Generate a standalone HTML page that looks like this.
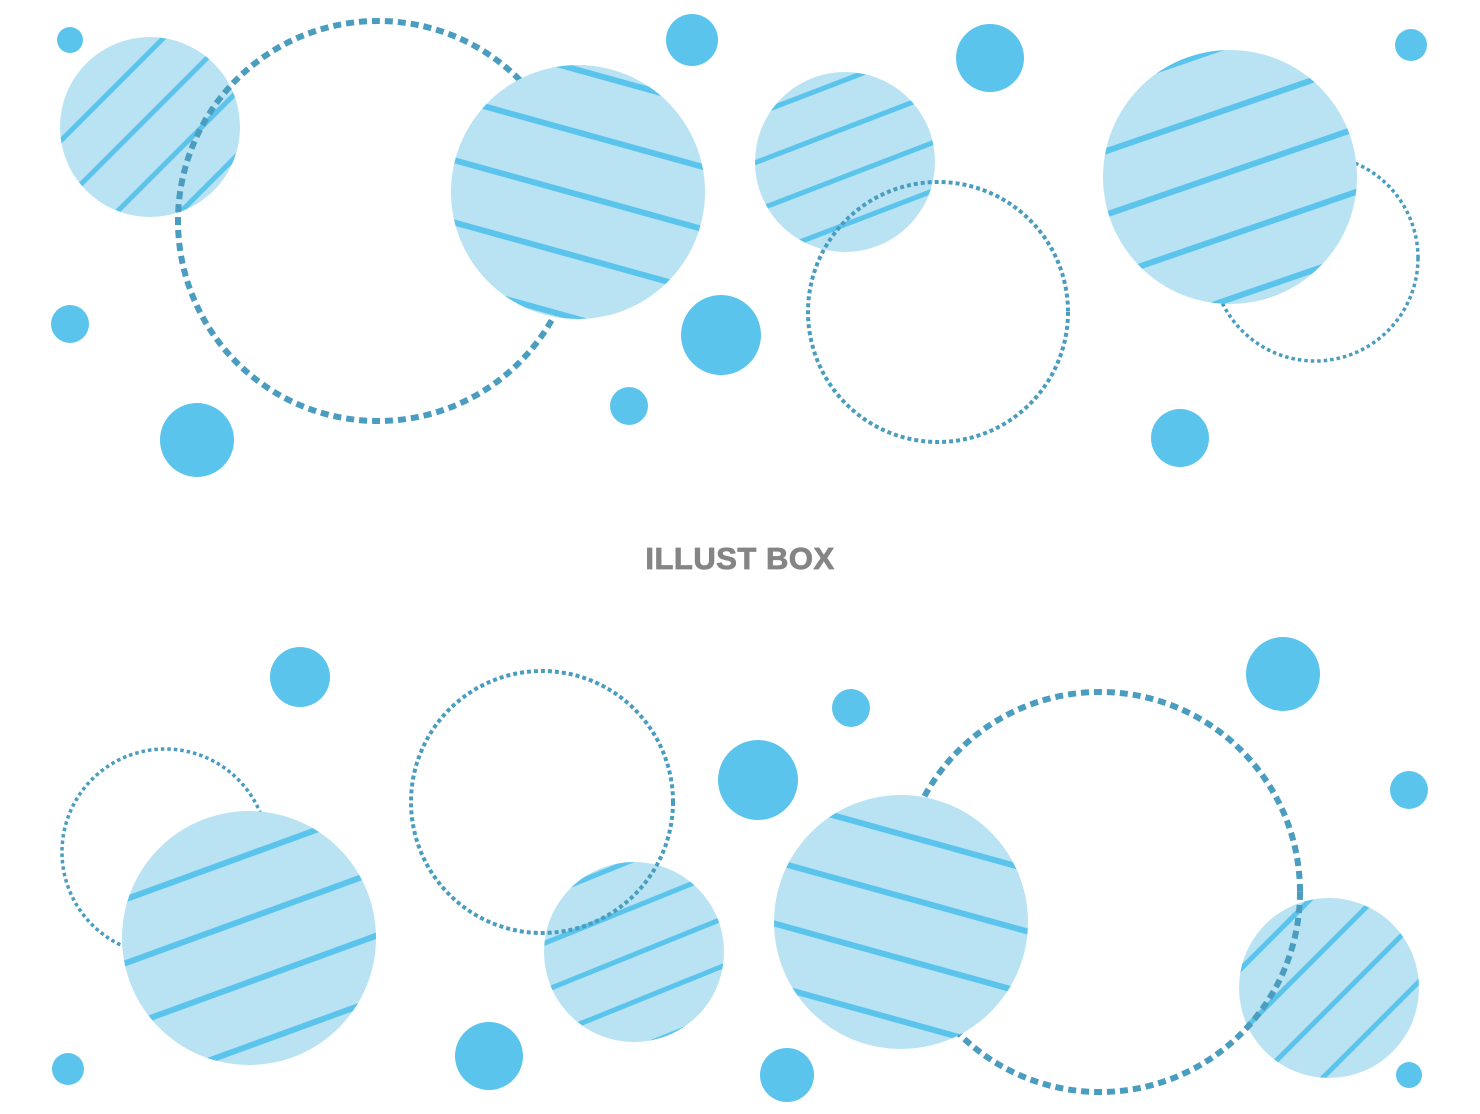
<!DOCTYPE html>
<html><head><meta charset="utf-8"><style>
html,body{margin:0;padding:0;background:#fff;}
svg{display:block}
</style></head><body>
<svg width="1480" height="1114" viewBox="0 0 1480 1114" xmlns="http://www.w3.org/2000/svg">
<defs>
<pattern id="pA" patternUnits="userSpaceOnUse" width="45" height="45" patternTransform="rotate(-45)"><rect width="45" height="45" fill="#b9e3f3"/><rect y="5" width="45" height="5" fill="#5bc4ec"/></pattern>
<pattern id="pB" patternUnits="userSpaceOnUse" width="60" height="60" patternTransform="rotate(15.5)"><rect width="60" height="60" fill="#b9e3f3"/><rect y="30" width="60" height="6" fill="#5bc4ec"/></pattern>
<pattern id="pC" patternUnits="userSpaceOnUse" width="45" height="45" patternTransform="rotate(-21)"><rect width="45" height="45" fill="#b9e3f3"/><rect y="15" width="45" height="5" fill="#5bc4ec"/></pattern>
<pattern id="pD" patternUnits="userSpaceOnUse" width="60" height="60" patternTransform="rotate(-19)"><rect width="60" height="60" fill="#b9e3f3"/><rect y="20" width="60" height="6" fill="#5bc4ec"/></pattern>
<pattern id="pE" patternUnits="userSpaceOnUse" width="60" height="60" patternTransform="rotate(-20)"><rect width="60" height="60" fill="#b9e3f3"/><rect y="45" width="60" height="6" fill="#5bc4ec"/></pattern>
<pattern id="pF" patternUnits="userSpaceOnUse" width="44" height="44" patternTransform="rotate(-22)"><rect width="44" height="44" fill="#b9e3f3"/><rect y="20" width="44" height="5" fill="#5bc4ec"/></pattern>
<pattern id="pG" patternUnits="userSpaceOnUse" width="60" height="60" patternTransform="rotate(15.5)"><rect width="60" height="60" fill="#b9e3f3"/><rect y="20" width="60" height="6" fill="#5bc4ec"/></pattern>
<pattern id="pH" patternUnits="userSpaceOnUse" width="45" height="45" patternTransform="rotate(-45)"><rect width="45" height="45" fill="#b9e3f3"/><rect y="30" width="45" height="5" fill="#5bc4ec"/></pattern>
</defs>
<g fill="#5bc4ec">
<circle cx="70" cy="40" r="13"/><circle cx="692" cy="40" r="26"/><circle cx="990" cy="58" r="34"/>
<circle cx="1411" cy="45" r="16"/><circle cx="70" cy="324" r="19"/><circle cx="721" cy="335" r="40"/>
<circle cx="629" cy="406" r="19"/><circle cx="197" cy="440" r="37"/><circle cx="1180" cy="438" r="29"/>
<circle cx="300" cy="677" r="30"/><circle cx="758" cy="780" r="40"/><circle cx="851" cy="708" r="19"/>
<circle cx="1283" cy="674" r="37"/><circle cx="1409" cy="790" r="19"/><circle cx="68" cy="1069" r="16"/>
<circle cx="489" cy="1056" r="34"/><circle cx="787" cy="1075" r="27"/><circle cx="1409" cy="1075" r="13"/>
</g>
<circle cx="150" cy="127" r="90" fill="url(#pA)"/>
<circle cx="378" cy="221" r="200" fill="none" stroke="#4a9dbf" stroke-width="6" stroke-dasharray="8 5"/>
<circle cx="578" cy="192" r="127" fill="url(#pB)"/>
<circle cx="845" cy="162" r="90" fill="url(#pC)"/>
<circle cx="938" cy="312" r="130" fill="none" stroke="#4a9dbf" stroke-width="4" stroke-dasharray="4 3"/>
<circle cx="1315" cy="258" r="103" fill="none" stroke="#4a9dbf" stroke-width="3.5" stroke-dasharray="3.5 3"/>
<circle cx="1230" cy="177" r="127" fill="url(#pD)"/>
<text x="740" y="569" text-anchor="middle" font-family="Liberation Sans, sans-serif" font-weight="bold" font-size="31" fill="#858585" letter-spacing="0.5" stroke="#858585" stroke-width="0.8">ILLUST BOX</text>
<circle cx="165" cy="852" r="103" fill="none" stroke="#4a9dbf" stroke-width="3.5" stroke-dasharray="3.5 3"/>
<circle cx="249" cy="938" r="127" fill="url(#pE)"/>
<circle cx="634" cy="952" r="90" fill="url(#pF)"/>
<circle cx="542" cy="802" r="131" fill="none" stroke="#4a9dbf" stroke-width="4" stroke-dasharray="4 3"/>
<circle cx="1329" cy="988" r="90" fill="url(#pH)"/>
<circle cx="1100" cy="892" r="200" fill="none" stroke="#4a9dbf" stroke-width="6" stroke-dasharray="8 5"/>
<circle cx="901" cy="922" r="127" fill="url(#pG)"/>
</svg>
</body></html>
